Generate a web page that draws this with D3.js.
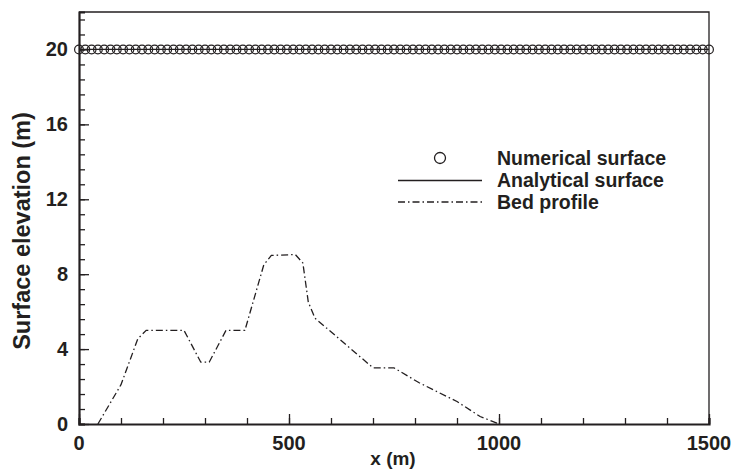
<!DOCTYPE html>
<html>
<head>
<meta charset="utf-8">
<script src="https://cdn.jsdelivr.net/npm/d3@7"></script>
<style>
  html, body { margin: 0; padding: 0; background: #fff; }
  svg { display: block; font-family: "Liberation Sans", Arial, Helvetica, sans-serif; }
</style>
</head>
<body>
<svg id="chart" width="732" height="470"></svg>
<script>
// Bed profile along the channel (x in m, elevation in m)
const bedX = [45, 100, 140, 160, 250, 290, 310, 350, 395, 440, 458, 515, 533, 546, 562, 700, 750, 810, 900, 955, 995, 1000];
const bedZ = [0, 2.1, 4.55, 5.0, 5.0, 3.3, 3.3, 5.0, 5.0, 8.5, 9.0, 9.05, 8.6, 6.5, 5.65, 3.0, 3.0, 2.2, 1.2, 0.4, 0.05, 0];

// Numerical free-surface samples (still water at 20 m)
const numX = d3.range(0, 1501, 15);
const numZ = numX.map(() => 20);

// Analytical surface
const anaX = [0, 1500];
const anaZ = [20, 20];

const xMajor = [0, 500, 1000, 1500];
const xMinor = d3.range(0, 1501, 100);
const yMajor = [0, 4, 8, 12, 16, 20];
const yMinor = d3.range(0, 22.01, 0.8);

const legendLabels = ["Numerical surface", "Analytical surface", "Bed profile"];

const svg = d3.select("#chart");
const L = 79, R = 709, T = 12, B = 424;
const x = d3.scaleLinear().domain([0, 1500]).range([L, R]);
const y = d3.scaleLinear().domain([0, 22]).range([B, T]);
const ink = "#231f20";

// frame (top and right)
svg.append("path")
  .attr("d", `M${L},${T}H${R}V${B}`)
  .attr("fill", "none").attr("stroke", ink).attr("stroke-width", 1.3);

// x axis with inward ticks
const gx = svg.append("g").attr("transform", `translate(0,${B})`);
gx.call(d3.axisTop(x).tickValues(xMinor).tickSize(6).tickFormat(""));
gx.call(g => g.selectAll(".tick line").attr("stroke", ink).attr("stroke-width", 1.3));
gx.append("g").call(d3.axisTop(x).tickValues(xMajor).tickSize(10).tickFormat(""))
  .call(g => g.selectAll(".tick line").attr("stroke", ink).attr("stroke-width", 1.3))
  .call(g => g.select(".domain").remove());
gx.select(".domain").attr("stroke", ink).attr("stroke-width", 2.2);
gx.selectAll(".xlab").data(xMajor).join("text")
  .attr("class", "xlab")
  .attr("x", d => x(d)).attr("y", 25.5)
  .attr("text-anchor", "middle")
  .attr("font-size", 20).attr("font-weight", "bold").attr("fill", ink)
  .text(d => d);

// y axis with inward ticks
const gy = svg.append("g").attr("transform", `translate(${L},0)`);
gy.call(d3.axisRight(y).tickValues(yMinor).tickSize(6).tickFormat(""));
gy.call(g => g.selectAll(".tick line").attr("stroke", ink).attr("stroke-width", 1.3));
gy.append("g").call(d3.axisRight(y).tickValues(yMajor).tickSize(10).tickFormat(""))
  .call(g => g.selectAll(".tick line").attr("stroke", ink).attr("stroke-width", 1.3))
  .call(g => g.select(".domain").remove());
gy.select(".domain").attr("stroke", ink).attr("stroke-width", 2.2);
gy.selectAll(".ylab").data(yMajor).join("text")
  .attr("class", "ylab")
  .attr("x", -11).attr("y", d => y(d) + 7)
  .attr("text-anchor", "end")
  .attr("font-size", 20).attr("font-weight", "bold").attr("fill", ink)
  .text(d => d);

// axis titles
svg.append("text")
  .attr("x", 393).attr("y", 465)
  .attr("text-anchor", "middle")
  .attr("font-size", 19).attr("font-weight", "bold").attr("fill", ink)
  .text("x (m)");
svg.append("text")
  .attr("transform", "translate(30,231) rotate(-90)")
  .attr("text-anchor", "middle")
  .attr("font-size", 23.5).attr("font-weight", "bold").attr("fill", ink)
  .text("Surface elevation (m)");

const dashDot = "7,3,1.5,3";

// bed profile
const bedLine = d3.line().x(d => x(d[0])).y(d => y(d[1]));
svg.append("path")
  .datum(d3.zip(bedX, bedZ))
  .attr("d", bedLine)
  .attr("fill", "none").attr("stroke", ink).attr("stroke-width", 1.3)
  .attr("stroke-dasharray", dashDot);

// analytical surface
svg.append("path")
  .datum(d3.zip(anaX, anaZ))
  .attr("d", bedLine)
  .attr("fill", "none").attr("stroke", ink).attr("stroke-width", 1.2);

// numerical surface markers
svg.append("g").selectAll("circle")
  .data(d3.zip(numX, numZ))
  .join("circle")
  .attr("cx", d => x(d[0])).attr("cy", d => y(d[1]))
  .attr("r", 4.4)
  .attr("fill", "none").attr("stroke", ink).attr("stroke-width", 1.2);

// legend
const lg = svg.append("g");
const rowY = [158, 180.5, 202];
lg.append("circle").attr("cx", 440).attr("cy", rowY[0]).attr("r", 5.5)
  .attr("fill", "none").attr("stroke", ink).attr("stroke-width", 1.3);
lg.append("line").attr("x1", 398).attr("x2", 482).attr("y1", rowY[1]).attr("y2", rowY[1])
  .attr("stroke", ink).attr("stroke-width", 1.3);
lg.append("line").attr("x1", 398).attr("x2", 482).attr("y1", rowY[2]).attr("y2", rowY[2])
  .attr("stroke", ink).attr("stroke-width", 1.3).attr("stroke-dasharray", dashDot);
lg.selectAll("text").data(legendLabels).join("text")
  .attr("x", 497).attr("y", (d, i) => rowY[i] + 6.5)
  .attr("font-size", 19.5).attr("font-weight", "bold").attr("fill", ink)
  .text(d => d);
</script>
</body>
</html>
